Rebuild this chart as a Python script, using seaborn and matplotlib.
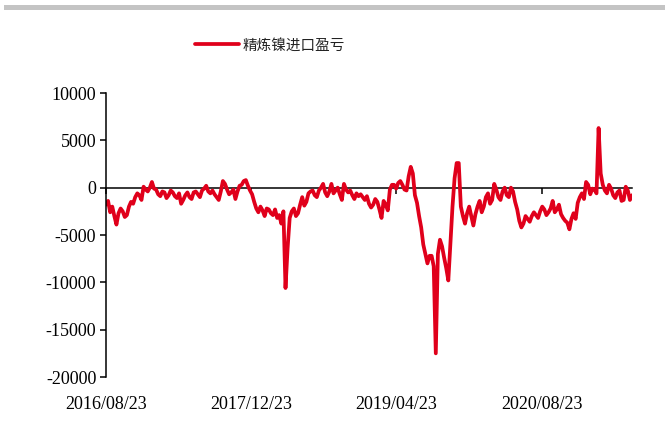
import matplotlib
matplotlib.use("Agg")
import matplotlib.pyplot as plt
from matplotlib.patches import Rectangle
import pandas as pd
import seaborn as sns

# ---- data (7-day spacing) ----
start_date = "2016-08-23"
step_days = 7
values = [
    -1800, -1400, -2600, -2000, -3000, -3900, -2700, -2200, -2500, -3100,
    -2900, -2000, -1500, -1700, -1000, -600, -800, -1300, 100, -200,
    -400, 0, 600, -100, -200, -700, -900, -400, -500, -1100,
    -800, -300, -500, -900, -1100, -600, -1700, -1300, -800, -500,
    -1000, -1200, -500, -400, -700, -1000, -300, -100, 200, -400,
    -600, -300, -700, -1000, -1300, -400, 700, 400, -200, -700,
    -500, -200, -1200, -400, 200, 300, 700, 800, 200, -300,
    -700, -1500, -2200, -2600, -2000, -2400, -3000, -2200, -2300, -2700,
    -2900, -2300, -3200, -2900, -3800, -2500, -10600, -6400, -3200, -2500,
    -2200, -3000, -2700, -1800, -1000, -1900, -1500, -600, -400, -300,
    -800, -1000, -300, 0, 400, -500, -900, -400, 400, -600,
    -300, 0, -700, -1300, 400, -200, -500, -300, -800, -1200,
    -600, -900, -700, -1000, -1300, -900, -1700, -2100, -1800, -1200,
    -1500, -2300, -3200, -1400, -1800, -2400, -200, 300, 300, -100,
    500, 700, 300, -200, -300, 1200, 2200, 1500, -800, -1600,
    -3000, -4200, -6000, -7000, -8000, -7200, -7200, -8300, -17500, -7000,
    -5500, -6200, -7400, -8500, -9800, -6000, -2000, 1000, 2600, 2600,
    -2000, -3000, -3800, -2700, -2000, -3000, -4000, -2800, -2000, -1400,
    -2600, -2000, -1000, -600, -1700, -1300, 400, -200, -1000, -1300,
    -400, 0, -800, -1000, 0, -400, -1500, -2300, -3500, -4200,
    -3800, -3000, -3300, -3600, -3000, -2600, -2900, -3200, -2500, -2000,
    -2300, -2900, -2600, -2200, -1400, -2600, -2300, -1800, -2800, -3200,
    -3500, -3700, -4400, -3300, -2700, -3300, -1600, -1000, -600, -1200,
    600, 300, -700, -100, -200, -600, 6300, 1500, 300, -300,
    -600, 300, -100, -800, -1100, -500, -300, -1400, -1300, 100,
    -300, -1300, -800,
]
tick_dates = ["2016-08-23", "2017-12-23", "2019-04-23", "2020-08-23"]
tick_labels = ["2016/08/23", "2017/12/23", "2019/04/23", "2020/08/23"]
y_ticks = [10000, 5000, 0, -5000, -10000, -15000, -20000]
series_name = "精炼镍进口盈亏"

dates = pd.date_range(start_date, periods=len(values), freq=f"{step_days}D")
df = pd.DataFrame({"date": dates, "value": values})

sns.set_style("white")
plt.rcParams["font.family"] = ["Liberation Serif", "DejaVu Serif"]

fig = plt.figure(figsize=(6.65, 4.23), dpi=100)
ax = fig.add_axes([106 / 665, 1 - 377 / 423, (632 - 106) / 665, (377 - 93) / 423])

# header bar
fig.patches.append(Rectangle((4 / 665, 1 - 10.5 / 423), 661 / 665, 5.5 / 423,
                             transform=fig.transFigure, facecolor="#c4c4c4",
                             edgecolor="none"))

red = "#e0001b"
sns.lineplot(data=df, x="date", y="value", ax=ax, color=red, linewidth=2.7,
             label=series_name, legend=False)

ax.set_ylim(-20000, 10000)
ax.set_xlim(dates[0], dates[-1])
ax.set_yticks(y_ticks)
ax.set_yticklabels([str(v) for v in y_ticks])
ax.set_xticks(pd.to_datetime(tick_dates))
ax.set_xticklabels(tick_labels)
ax.set_xlabel("")
ax.set_ylabel("")

for s in ["top", "right"]:
    ax.spines[s].set_visible(False)
ax.spines["bottom"].set_position(("data", 0))
ax.spines["bottom"].set_color("black")
ax.spines["bottom"].set_linewidth(1.1)
ax.spines["bottom"].set_zorder(1)
ax.spines["left"].set_color("black")
ax.spines["left"].set_linewidth(1.1)

ax.tick_params(axis="y", direction="out", length=4, width=1.1, color="black",
               labelsize=13, pad=3, left=True)
ax.tick_params(axis="x", direction="out", length=4, width=1.1, color="black",
               labelsize=13, pad=146, bottom=True)
for lab in ax.get_xticklabels() + ax.get_yticklabels():
    lab.set_color("black")

handles, labels = ax.get_legend_handles_labels()
fig.legend(handles, labels, loc="center", bbox_to_anchor=(0.406, 0.893),
           frameon=False, handlelength=3.0, handletextpad=0.2,
           prop={"family": ["Noto Sans CJK SC", "DejaVu Sans"], "size": 10.5},
           labelcolor="#222222")

fig.savefig("out.png", dpi=100)
